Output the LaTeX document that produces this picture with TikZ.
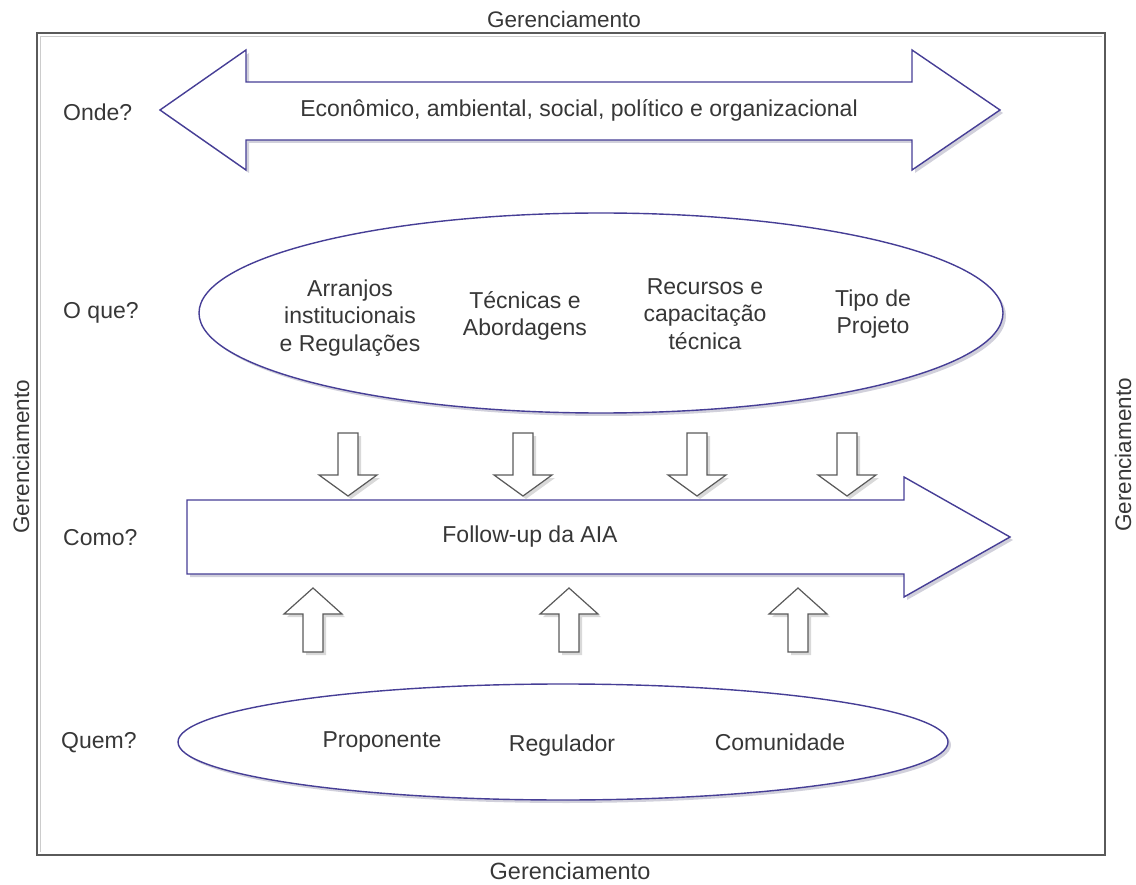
\documentclass[tikz,border=0pt]{standalone}
\usepackage{fontspec}
\setmainfont{Liberation Sans}
\usetikzlibrary{shadows}
\definecolor{outlineblue}{RGB}{70,62,150}
\definecolor{txt}{RGB}{55,55,55}
\definecolor{framegray}{RGB}{90,90,90}
\begin{document}
\begin{tikzpicture}[x=1pt,y=-1pt,
  lbl/.style={font=\fontsize{23}{27.5}\selectfont, text=txt, align=center, inner sep=0pt},
  side/.style={font=\fontsize{22.5}{27}\selectfont, text=txt, inner sep=0pt},
  bluebox/.style={draw=outlineblue, line width=1.4pt, fill=white, line join=miter,
    drop shadow={shadow xshift=3pt, shadow yshift=-3pt, opacity=0.3, fill=outlineblue!40!gray}},
  grayarrow/.style={draw=framegray, line width=1.2pt, fill=white,
    drop shadow={shadow xshift=3pt, shadow yshift=-3pt, opacity=0.3, fill=gray}}]
\useasboundingbox (0,0) rectangle (1136,885);

% outer frame
\draw[line width=1.6pt, framegray] (37,33) rectangle (1105,855);
\draw[line width=1pt, gray!40] (40,37) -- (1102,37);
\draw[line width=1pt, gray!40] (40,37) -- (40,852);
\node[side] (gtop) at (564,19) {Gerenciamento};
\node[side, font=\fontsize{23.5}{28}\selectfont] (gbot) at (570,871) {Gerenciamento};
\node[side, rotate=90] (gleft) at (21,457) {Gerenciamento};
\node[side, rotate=90] (gright) at (1123,455) {Gerenciamento};

% row labels
\node[lbl, anchor=west] (onde) at (63,112) {Onde?};
\node[lbl, anchor=west] (oque) at (63,313) {O que?};
\node[lbl, anchor=west] (como) at (63,538) {Como?};
\node[lbl, anchor=west] (quem) at (61,743) {Quem?};

% Onde: double arrow
\path[bluebox] (160,110) -- (246,50) -- (246,82) -- (912,82) -- (912,50) -- (1000,110)
  -- (912,170) -- (912,140) -- (246,140) -- (246,170) -- cycle;
\node[lbl] (onde-txt) at (579,110) {Econômico, ambiental, social, político e organizacional};

% O que: ellipse
\path[bluebox] (601,313) ellipse [x radius=402, y radius=100];
\node[lbl] (arranjos) at (350,318) {Arranjos\\institucionais\\e Regulações};
\node[lbl] (tecnicas) at (525,316) {Técnicas e\\Abordagens};
\node[lbl] (recursos) at (705,314) {Recursos e\\capacitação\\técnica};
\node[lbl] (tipo) at (873,314) {Tipo de\\Projeto};

% Como: right arrow
\path[bluebox] (187,500) -- (904,500) -- (904,477) -- (1010,537) -- (904,597)
  -- (904,574) -- (187,574) -- cycle;
\node[lbl] (follow) at (530,537) {Follow-up da AIA};

% down arrows (O que -> Como)
\foreach \cx/\nm in {348/da, 523/db, 697/dc, 847/dd}{
  \path[grayarrow] (\cx-10,433) -- (\cx+10,433) -- (\cx+10,475) -- (\cx+29,475)
    -- (\cx,496) -- (\cx-29,475) -- (\cx-10,475) -- cycle;
  \coordinate (\nm) at (\cx,496);
}

% up arrows (Quem -> Como)
\foreach \cx/\nm in {313/ua, 569/ub, 798/uc}{
  \path[grayarrow] (\cx,588) -- (\cx+29,614) -- (\cx+10,614) -- (\cx+10,652)
    -- (\cx-10,652) -- (\cx-10,614) -- (\cx-29,614) -- cycle;
  \coordinate (\nm) at (\cx,588);
}

% Quem: ellipse
\path[bluebox] (563,742) ellipse [x radius=385, y radius=58];
\node[lbl] (prop) at (382,742) {Proponente};
\node[lbl] (regul) at (562,746) {Regulador};
\node[lbl] (comun) at (780,742) {Comunidade};
\end{tikzpicture}
\end{document}
